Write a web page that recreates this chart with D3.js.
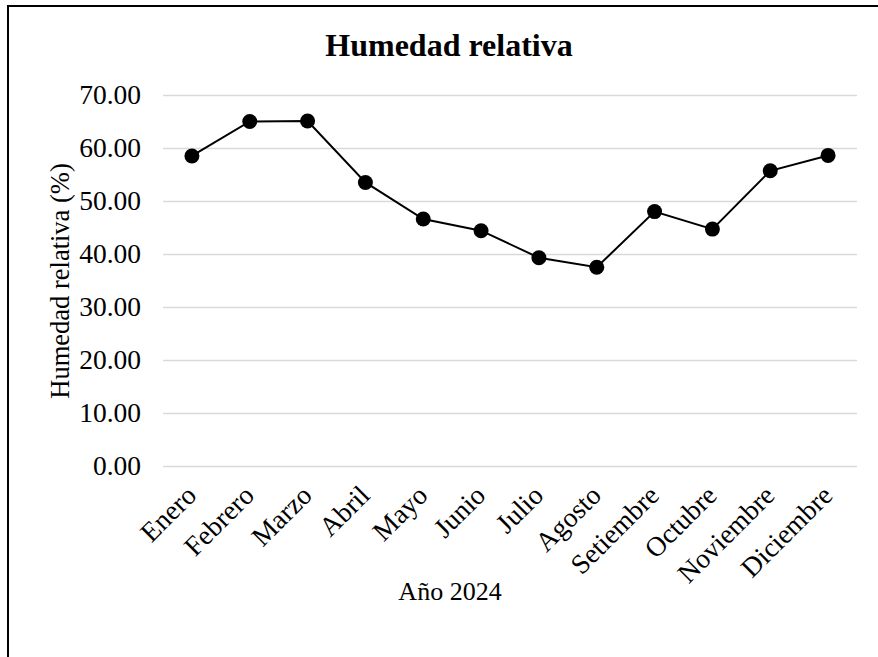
<!DOCTYPE html>
<meta charset="utf-8">
<style>

body {
  margin: 0;
  background: #fff;
}

text {
  font-family: "Liberation Serif", "Times New Roman", serif;
  fill: #000;
}

</style>
<svg id="chart" width="878" height="657"></svg>
<script src="https://d3js.org/d3.v7.min.js"></script>
<script>

// Months of 2024 and the relative humidity (%) for each.
var months = ["Enero", "Febrero", "Marzo", "Abril", "Mayo", "Junio",
              "Julio", "Agosto", "Setiembre", "Octubre", "Noviembre", "Diciembre"];

var humidity = [58.5, 65.0, 65.1, 53.5, 46.6, 44.4, 39.3, 37.5, 48.0, 44.7, 55.7, 58.6];

var yTicks = [0, 10, 20, 30, 40, 50, 60, 70];

var svg = d3.select("svg"),
    margin = {top: 95, right: 21, bottom: 191, left: 163},
    width = +svg.attr("width") - margin.left - margin.right,
    height = +svg.attr("height") - margin.top - margin.bottom,
    g = svg.append("g").attr("transform", "translate(" + margin.left + "," + margin.top + ")");

// outer frame, right and bottom edges run off the picture
svg.append("rect")
    .attr("x", 8)
    .attr("y", 6)
    .attr("width", 900)
    .attr("height", 700)
    .attr("fill", "none")
    .attr("stroke", "#000")
    .attr("stroke-width", 2);

var x = d3.scaleBand()
    .domain(months)
    .range([0, width]);

var y = d3.scaleLinear()
    .domain([0, 70])
    .range([height, 0]);

// gridlines + y labels
g.append("g")
    .attr("class", "axis axis--y")
    .call(d3.axisLeft(y)
        .tickValues(yTicks)
        .tickSize(-width)
        .tickPadding(22)
        .tickFormat(d3.format(".2f")))
    .call(function(s) {
      s.select(".domain").remove();
      s.selectAll(".tick line").attr("stroke", "#d9d9d9").attr("stroke-width", 1.5);
      s.selectAll(".tick text").attr("font-size", 27.5).style("font-family", "'Liberation Serif', serif");
    });

// month labels, rotated
g.append("g")
    .attr("class", "axis axis--x")
    .attr("transform", "translate(0," + height + ")")
    .call(d3.axisBottom(x).tickSize(0).tickPadding(0))
    .call(function(s) {
      s.select(".domain").remove();
      s.selectAll(".tick text")
          .attr("font-size", 27.5)
          .style("font-family", "'Liberation Serif', serif")
          .attr("text-anchor", "end")
          .attr("dy", null)
          .attr("transform", "translate(6,31) rotate(-45)");
    });

var cx = function(d, i) { return x(months[i]) + x.bandwidth() / 2; };

g.append("path")
    .datum(humidity)
    .attr("fill", "none")
    .attr("stroke", "#000")
    .attr("stroke-width", 2)
    .attr("d", d3.line()
        .x(cx)
        .y(function(d) { return y(d); }));

g.selectAll(".dot")
  .data(humidity)
  .enter().append("circle")
    .attr("class", "dot")
    .attr("cx", cx)
    .attr("cy", function(d) { return y(d); })
    .attr("r", 7.5)
    .attr("fill", "#000");

svg.append("text")
    .attr("x", 449)
    .attr("y", 56)
    .attr("text-anchor", "middle")
    .attr("font-size", 32)
    .attr("font-weight", "bold")
    .text("Humedad relativa");

svg.append("text")
    .attr("transform", "translate(69,281) rotate(-90)")
    .attr("text-anchor", "middle")
    .attr("font-size", 26.5)
    .text("Humedad relativa (%)");

svg.append("text")
    .attr("x", 450)
    .attr("y", 600)
    .attr("text-anchor", "middle")
    .attr("font-size", 26)
    .text("Año 2024");

</script>
